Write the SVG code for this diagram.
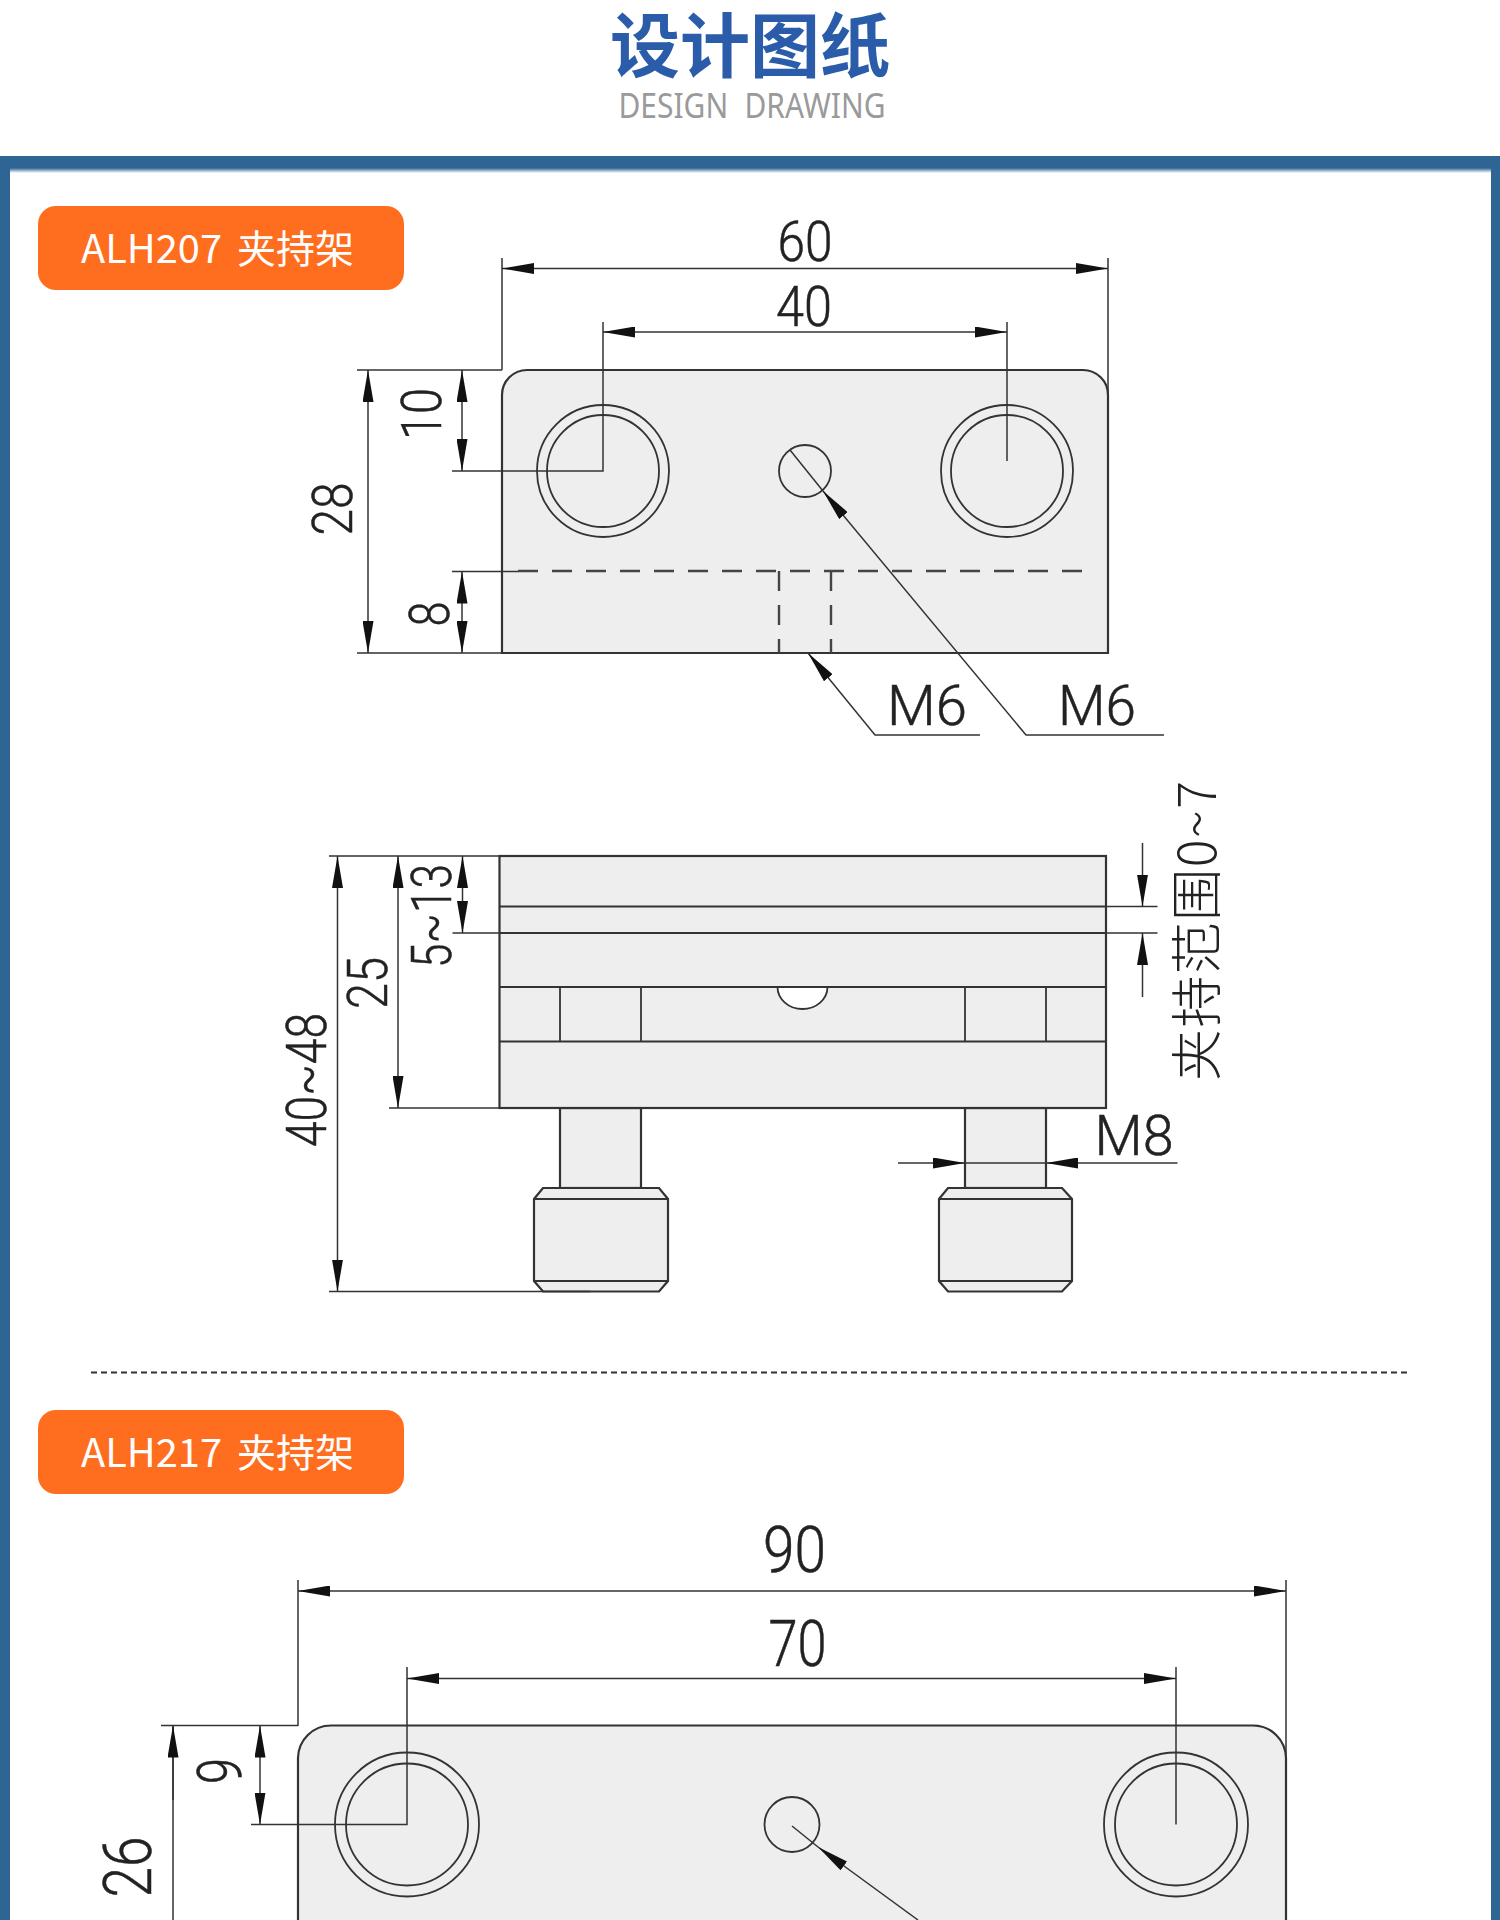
<svg xmlns="http://www.w3.org/2000/svg" width="1500" height="1920" viewBox="0 0 1500 1920">
<style>
.b{fill:#eeeeee;stroke:#333;stroke-width:2.2}
.s{fill:none;stroke:#333;stroke-width:1.8}
.d{fill:none;stroke:#333;stroke-width:1.5}
.a{marker-start:url(#ar);marker-end:url(#ar)}
.e{marker-end:url(#ar)}
.h{fill:none;stroke:#444;stroke-width:2.4;stroke-dasharray:20 14}
.t{font-family:Roboto,"Liberation Sans",sans-serif;font-weight:300;fill:#222;stroke:#222;stroke-width:.5;text-anchor:middle}
.c{font-family:"Noto Sans CJK SC",sans-serif;font-weight:300;fill:#222;text-anchor:middle}
.o{fill:#ff6d1f}
.w{font-family:"Noto Sans CJK SC",sans-serif;font-size:39px;fill:#fff}
</style>
<defs>
<marker id="ar" markerUnits="userSpaceOnUse" markerWidth="32" markerHeight="11" refX="32" refY="5.500" orient="auto-start-reverse"><path d="M0 0L32 5.500L0 11Z" fill="#111"/></marker>
<linearGradient id="fade" x1="0" y1="0" x2="0" y2="1"><stop offset="0" stop-color="#2e6594"/><stop offset="1" stop-color="#2e6594" stop-opacity="0"/></linearGradient>
</defs>
<rect width="1500" height="1920" fill="#fff"/>
<g id="frame">
<rect x="0" y="156" width="1500" height="12" fill="#2e6594"/>
<rect x="10" y="168" width="1481" height="5" fill="url(#fade)"/>
<rect x="0" y="156" width="10" height="1764" fill="#2e6594"/>
<rect x="1491" y="156" width="9" height="1764" fill="#2e6594"/>
</g>
<g id="title">
<text x="750" y="72" font-family="Noto Sans CJK SC,sans-serif" font-weight="700" font-size="70" fill="#2a5caa" text-anchor="middle">设计图纸</text>
<text x="752" y="118" font-family="Noto Sans,sans-serif" font-size="35" fill="#9a9a9a" text-anchor="middle" word-spacing="10" textLength="267" lengthAdjust="spacingAndGlyphs">DESIGN DRAWING</text>
</g>
<g id="badge-alh207"><rect class="o" x="38" y="206" width="366" height="84" rx="18"/><text class="w" x="81" y="263"><tspan textLength="141" lengthAdjust="spacingAndGlyphs">ALH207</tspan><tspan x="237">夹持架</tspan></text></g>
<g id="top-view-207">
<path class="b" d="M502 653V395A25 25 0 0 1 527 370H1083A25 25 0 0 1 1108 395V653Z"/>
<circle class="s" cx="603" cy="471" r="66"/><circle class="s" cx="603" cy="471" r="56"/>
<circle class="s" cx="1007" cy="471" r="66"/><circle class="s" cx="1007" cy="471" r="56"/>
<circle class="s" cx="805" cy="471" r="26"/>
<path class="h" d="M518 571H1092M779 571V653M831 571V653"/>
</g>
<g id="side-view-207">
<rect class="b" x="560" y="1108" width="81" height="80"/>
<rect class="b" x="965" y="1108" width="81" height="80"/>
<rect class="b" x="499.500" y="856" width="606.500" height="252"/>
<path class="s" d="M499.500 906.500H1106M499.500 933H1106M499.500 987H1106M499.500 1041.500H1106M560 987V1041.500M641 987V1041.500M965 987V1041.500M1046 987V1041.500"/>
<path class="s" d="M777.500 987A25 22 0 0 0 827.500 987Z" style="fill:#fff"/>
<path class="b" d="M543 1188H659L668 1199V1281L659 1291.500H543L534 1281V1199Z"/>
<path class="s" d="M534 1199H668M534 1281H668"/>
<path class="b" d="M948 1188H1062L1072 1199V1281L1062 1291.500H948L939 1281V1199Z"/>
<path class="s" d="M939 1199H1072M939 1281H1072"/>
</g>
<g id="top-view-217">
<path class="b" d="M298 1925V1758A33 33 0 0 1 331 1725.500H1253A33 33 0 0 1 1286 1758V1925"/>
<circle class="s" cx="407" cy="1824.500" r="72"/><circle class="s" cx="407" cy="1824.500" r="61"/>
<circle class="s" cx="1176" cy="1824.500" r="72"/><circle class="s" cx="1176" cy="1824.500" r="61"/>
<circle class="s" cx="792" cy="1824.500" r="27.500"/>
</g>
<g id="connectors">
<path class="d" d="M502 258V370M1108 258V400M603 322V471H452M1007 322V461M357 370H502M357 653H502M452 571.500H518"/>
<path class="d a" d="M502 268.500H1108"/>
<path class="d a" d="M603 332H1007"/>
<path class="d a" d="M368 370V653"/>
<path class="d a" d="M462 370V471"/>
<path class="d a" d="M462 571.500V653"/>
<path class="d e" d="M980 735H875L808 653"/>
<path class="d e" d="M1164 735H1026L823 491"/>
<path class="d" d="M823 491L790 450"/>
<path class="d" d="M329 856H499M329 1291.500H590M389 1108H499M452.500 933H499M1106 906.500H1157.500M1106 933H1157.500M965 1163H1046"/>
<path class="d a" d="M337.500 856V1291.500"/>
<path class="d a" d="M398 856V1108"/>
<path class="d a" d="M462.500 856V933"/>
<path class="d e" d="M1142.500 843V906.500"/>
<path class="d e" d="M1142.500 997V933"/>
<path class="d e" d="M898 1163H965"/>
<path class="d e" d="M1177.500 1163H1046"/>
<path class="d" d="M298 1580V1726M1286 1580V1760M407 1667V1824.500H251M1176 1667V1824.500M161 1725.500H298"/>
<path class="d a" d="M298 1591H1286"/>
<path class="d a" d="M407 1678.500H1176"/>
<path class="d a" d="M260 1725.500V1824.500"/>
<path class="d" d="M173 1725.500V1925"/>
<path class="e d" d="M173 1800V1725.500"/>
<path class="d e" d="M918 1920L818 1847"/>
<path class="d" d="M818 1847L792 1826"/>
</g>
<g id="labels">
<text class="t" x="805" y="261" font-size="56" textLength="55" lengthAdjust="spacingAndGlyphs">60</text>
<text class="t" x="804" y="326" font-size="56" textLength="56" lengthAdjust="spacingAndGlyphs">40</text>
<text class="t" transform="translate(441 414) rotate(-90)" font-size="56" textLength="52" lengthAdjust="spacingAndGlyphs">10</text>
<text class="t" transform="translate(352 509) rotate(-90)" font-size="56" textLength="53" lengthAdjust="spacingAndGlyphs">28</text>
<text class="t" transform="translate(449 614) rotate(-90)" font-size="56" textLength="25" lengthAdjust="spacingAndGlyphs">8</text>
<text class="t" x="927" y="725" font-size="56" textLength="80" lengthAdjust="spacingAndGlyphs">M6</text>
<text class="t" x="1097" y="725" font-size="56" textLength="78" lengthAdjust="spacingAndGlyphs">M6</text>
<text class="t" transform="translate(326 1080) rotate(-90)" font-size="56" textLength="134" lengthAdjust="spacingAndGlyphs">40~48</text>
<text class="t" transform="translate(387 983) rotate(-90)" font-size="56" textLength="52" lengthAdjust="spacingAndGlyphs">25</text>
<text class="t" transform="translate(451 916) rotate(-90)" font-size="56" textLength="104" lengthAdjust="spacingAndGlyphs">5~13</text>
<text class="t" x="1134" y="1155" font-size="56" textLength="79" lengthAdjust="spacingAndGlyphs">M8</text>
<text class="c" transform="translate(1216 931) rotate(-90)" font-size="52" textLength="300" lengthAdjust="spacing">夹持范围0~7</text>
<text class="t" x="794.500" y="1572" font-size="64" textLength="63" lengthAdjust="spacingAndGlyphs">90</text>
<text class="t" x="797.500" y="1666" font-size="64" textLength="58" lengthAdjust="spacingAndGlyphs">70</text>
<text class="t" transform="translate(241 1771) rotate(-90)" font-size="62" textLength="26" lengthAdjust="spacingAndGlyphs">9</text>
<text class="t" transform="translate(151 1867) rotate(-90)" font-size="66" textLength="61" lengthAdjust="spacingAndGlyphs">26</text>
</g>
<g id="separator"><path d="M91 1372.500H1408" stroke="#333" stroke-width="2" stroke-dasharray="6 4" fill="none"/></g>
<g id="badge-alh217"><rect class="o" x="38" y="1410" width="366" height="84" rx="18"/><text class="w" x="81" y="1467"><tspan textLength="141" lengthAdjust="spacingAndGlyphs">ALH217</tspan><tspan x="237">夹持架</tspan></text></g>
</svg>
